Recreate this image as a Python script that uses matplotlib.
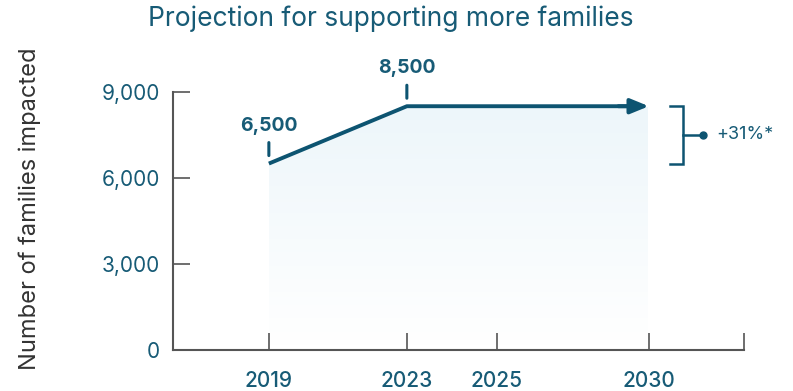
import numpy as np
import matplotlib.pyplot as plt
from matplotlib.colors import LinearSegmentedColormap
from matplotlib.patches import Polygon
import matplotlib.transforms as mtransforms

plt.rcParams['font.family'] = ['Inter', 'DejaVu Sans']

# data
years = [2019, 2023, 2030]
families = [6500, 8500, 8500]
labelled_years = [2019, 2023]
labelled_values = [6500, 8500]
tick_years = [2019, 2023, 2025, 2030]
y_ticks = [0, 3000, 6000, 9000]
y_ticklabels = ['0', '3,000', '6,000', '9,000']
growth_label = '+31%*'

teal = '#0d5471'
text_teal = '#175b76'
grey = '#555555'

# uneven spacing of the year axis (piecewise linear scale)
anchor_years = [2016, 2019, 2023, 2025, 2030, 2033]
anchor_pos = [0, 96, 234, 324, 476, 571]
def fwd(x):
    return np.interp(x, anchor_years, anchor_pos)
def inv(p):
    return np.interp(p, anchor_pos, anchor_years)

fig = plt.figure(figsize=(7.93, 3.91), dpi=100)
ax = fig.add_axes([0.218, 0.105, 0.720, 0.660])
ax.set_xscale('function', functions=(fwd, inv))
ax.set_xlim(2016, 2033)
ax.set_ylim(0, 9000)

# gradient fill under the line
grad = np.linspace(1, 0, 256).reshape(-1, 1)
cmap = LinearSegmentedColormap.from_list('fade', ['#ffffff', '#edf6fa'])
img = ax.imshow(grad, cmap=cmap, aspect='auto', extent=[2019, 2030, 150, 8500],
                origin='upper', zorder=1)
poly = Polygon([(years[0], 0)] + list(zip(years, families)) + [(years[-1], 0)],
               closed=True, transform=ax.transData)
img.set_clip_path(poly)

ax.plot(years[:-1] + [2029.4], families, color=teal, lw=2.8, solid_capstyle='butt', zorder=3)
ax.annotate('', xy=(years[-1], families[-1]), xytext=(2029.0, families[-1]),
            arrowprops=dict(arrowstyle='-|>,head_length=1.1,head_width=0.45',
                            color=teal, lw=2.8, shrinkA=0, shrinkB=0), zorder=4)

# value labels with small markers above the points
for yr, v in zip(labelled_years, labelled_values):
    ax.annotate('', xy=(yr, v), xytext=(yr, v),
                xycoords=mtransforms.offset_copy(ax.transData, fig=fig, y=8, units='dots'),
                textcoords=mtransforms.offset_copy(ax.transData, fig=fig, y=21, units='dots'),
                arrowprops=dict(arrowstyle='-', color=teal, lw=2.2, shrinkA=0, shrinkB=0))
    ax.text(yr, v, f'{v:,}', transform=mtransforms.offset_copy(ax.transData, fig=fig, y=38, units='dots'),
            ha='center', va='center', fontsize=14, fontweight='bold', color=text_teal)

# bracket for the growth
bt = mtransforms.blended_transform_factory(ax.transAxes, ax.transData)
bx = 0.893
serif = 0.022
lo, hi = labelled_values[0], labelled_values[1]
ax.plot([bx - serif, bx, bx, bx - serif], [hi, hi, lo, lo], transform=bt,
        color=teal, lw=1.8, clip_on=False, solid_joinstyle='miter')
ax.plot([bx, bx + 0.035], [(hi + lo) / 2] * 2, transform=bt, color=teal, lw=1.8, clip_on=False)
ax.plot([bx + 0.035], [(hi + lo) / 2], 'o', transform=bt, color=teal, ms=5, clip_on=False)
ax.text(bx + 0.058, (hi + lo) / 2, growth_label, transform=bt, ha='left', va='center',
        fontsize=13, color=text_teal)

# axes styling
for s in ['top', 'right']:
    ax.spines[s].set_visible(False)
for s in ['left', 'bottom']:
    ax.spines[s].set_color(grey)
    ax.spines[s].set_linewidth(1.5)
ax.set_xticks(tick_years + [2033])
ax.set_xticklabels([str(y) for y in tick_years] + [''])
ax.set_yticks(y_ticks)
ax.set_yticklabels(y_ticklabels)
ax.tick_params(axis='both', direction='in', length=12, width=1.2, color=grey,
               labelcolor=text_teal, labelsize=15)
ax.tick_params(axis='x', pad=15)
ax.tick_params(axis='y', pad=9)
for lab in ax.get_xticklabels():
    lab.set_fontweight('medium')

fig.text(0.038, 0.465, 'Number of families impacted', rotation=90, ha='center', va='center',
         fontsize=17, color='#333333')
fig.text(0.493, 0.953, 'Projection for supporting more families', ha='center', va='center',
         fontsize=19, color=text_teal)

fig.savefig('out.png', dpi=100)
